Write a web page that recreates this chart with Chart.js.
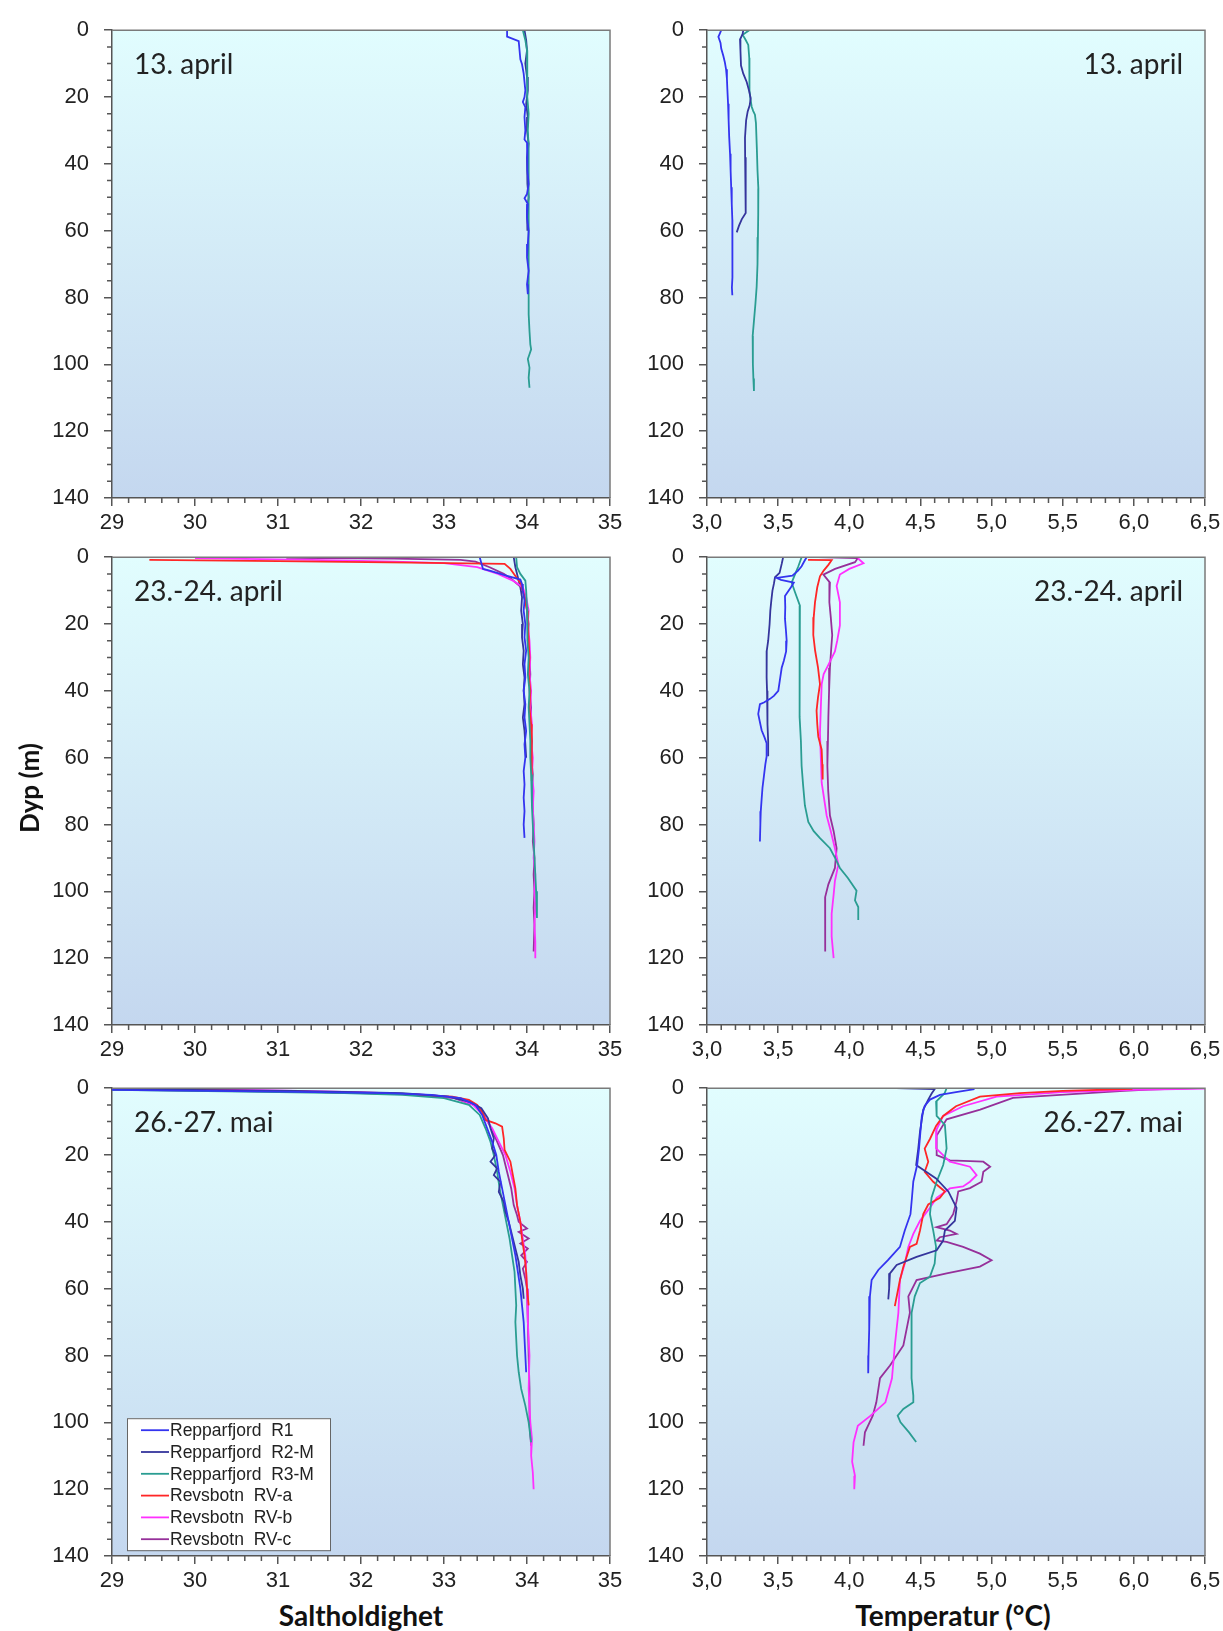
<!DOCTYPE html>
<html><head><meta charset="utf-8">
<script src="https://cdn.jsdelivr.net/npm/chart.js@4.4.1/dist/chart.umd.min.js"></script>
<style>
html,body{margin:0;padding:0;background:#fff}
body{width:1223px;height:1631px;position:relative;overflow:hidden}
canvas{position:absolute}
.t{position:absolute;font-family:Lato,'Open Sans',sans-serif;font-weight:bold;color:#111;white-space:nowrap;transform:translate(-50%,-50%)}
</style></head><body>
<canvas id="p1"></canvas><canvas id="p2"></canvas><canvas id="p3"></canvas>
<canvas id="p4"></canvas><canvas id="p5"></canvas><canvas id="p6"></canvas>
<div class="t" id="ty" style="left:29px;top:788px;font-size:26px;transform:translate(-50%,-50%) rotate(-90deg)">Dyp (m)</div>
<div class="t" style="left:361px;top:1615px;font-size:28px">Saltholdighet</div>
<div class="t" style="left:953px;top:1615px;font-size:28px">Temperatur (°C)</div>
<script>
// ---------- tick labels / categories ----------
const depthTickLabels = ['0','20','40','60','80','100','120','140'];
const salTickLabels = ['29','30','31','32','33','34','35'];
const tempTickLabels = ['3,0','3,5','4,0','4,5','5,0','5,5','6,0','6,5'];
const stationLabels = ['Repparfjord  R1','Repparfjord  R2-M','Repparfjord  R3-M','Revsbotn  RV-a','Revsbotn  RV-b','Revsbotn  RV-c'];
const stationColors = ['#3434f0','#35359c','#2a9d92','#ff2626','#ff30ff','#96309a'];
const panelLabels = ['13. april','23.-24. april','26.-27. mai'];

// ---------- series: [depth (m), value] ----------
// 13. april, salinity
const sal13_R1 = [[0,33.76],[1.9,33.76],[3.3,33.9],[6,33.91],[8.7,33.92],[10.2,33.94],[13,33.96],[18,33.98],[20,33.97],[21.5,33.95],[23,33.98],[26,33.97],[30,33.98],[32.7,33.97],[33.7,34.0],[38,34.01],[42,34.0],[46,34.02],[49,34.0],[50.3,33.97],[52,34.01],[56,34.0],[60,34.02],[64,34.01],[68,34.0],[72,34.02],[76,34.0],[79,34.01]];
const sal13_R2 = [[0,33.97],[3,33.99],[6,34.0],[10,33.98],[14,34.0],[18,34.01],[22,33.99],[26,34.01],[30,34.0],[34,34.02],[38,34.0],[42,34.01],[46,34.0],[50,34.02],[54,34.0],[57,34.01],[60,34.0]];
const sal13_R3 = [[0,33.95],[3,33.98],[6,34.0],[10,34.0],[15,34.01],[20,34.0],[25,34.02],[30,34.01],[35,34.02],[40,34.02],[50,34.02],[60,34.02],[70,34.02],[80,34.02],[85,34.02],[90,34.03],[94,34.04],[95.5,34.05],[97,34.03],[98.4,34.01],[101,34.03],[104,34.02],[107,34.03]];
// 13. april, temperature
const tmp13_R1 = [[0,3.10],[1,3.09],[2,3.08],[3.8,3.095],[5.5,3.10],[7.7,3.115],[9.5,3.125],[11.7,3.134],[14.5,3.14],[17.6,3.143],[22,3.148],[27,3.152],[32,3.156],[37,3.162],[42,3.166],[47,3.17],[52,3.174],[56.7,3.178],[62,3.178],[68,3.18],[74,3.178],[77,3.175],[79.3,3.178]];
const tmp13_R2 = [[0,3.255],[1.2,3.25],[2.8,3.232],[6,3.235],[10.6,3.239],[13,3.255],[15.5,3.279],[18,3.295],[20.4,3.307],[22.5,3.30],[24.3,3.286],[27,3.275],[32.2,3.267],[38,3.268],[44,3.27],[50,3.272],[54.7,3.274],[56.6,3.244],[58.5,3.225],[60.5,3.209]];
const tmp13_R3 = [[0,3.297],[1.4,3.251],[2.8,3.27],[4.4,3.29],[8.3,3.297],[13,3.297],[17.9,3.30],[20.5,3.305],[22.9,3.314],[24.2,3.325],[25.3,3.337],[27.8,3.344],[35,3.35],[42,3.355],[47.4,3.361],[55,3.36],[62,3.358],[70,3.355],[76.8,3.349],[82,3.34],[87,3.33],[91.5,3.321],[96,3.323],[100,3.322],[104.2,3.326],[108,3.33]];
// 23.-24. april, salinity
const sal24_R1 = [[0,33.43],[3.5,33.47],[4,33.55],[5.5,33.75],[6.7,33.92],[8,33.94],[10,33.95],[13,33.97],[16,33.96],[20,33.98],[24,33.97],[28,33.99],[32,33.97],[36,33.98],[40,33.96],[44,33.98],[48,33.97],[52,33.99],[56,33.97],[60,33.98],[64,33.96],[68,33.97],[72,33.96],[76,33.97],[80,33.96],[84,33.97]];
const sal24_R2 = [[0,33.84],[3,33.86],[6,33.89],[9,33.92],[12,33.94],[16,33.93],[20,33.95],[24,33.94],[28,33.96],[32,33.95],[36,33.97],[40,33.96],[44,33.97],[48,33.95],[52,33.97],[56,33.98],[60,33.99]];
const sal24_R3 = [[0,33.87],[3,33.88],[5,33.92],[7,33.98],[10,33.99],[15,34.0],[20,34.01],[25,34.0],[30,34.02],[35,34.01],[40,34.03],[45,34.02],[50,34.03],[55,34.04],[60,34.04],[65,34.05],[70,34.06],[75,34.06],[80,34.07],[85,34.08],[90,34.09],[95,34.1],[100,34.11],[104,34.12],[108,34.12]];
const sal24_RVa = [[0.8,29.45],[1.2,31.0],[1.6,32.6],[2.0,33.73],[3.5,33.8],[5.6,33.86],[8,33.93],[12,33.97],[16,34.0],[20,34.01],[25,34.02],[30,34.03],[35,34.02],[40,34.04],[45,34.03],[50,34.05],[55,34.06],[60,34.05],[64,34.06],[67,34.06]];
const sal24_RVb = [[0.3,30.0],[0.8,31.4],[1.3,32.4],[1.8,33.0],[3,33.4],[5,33.65],[7,33.83],[9,33.95],[12,33.99],[16,34.02],[20,34.01],[25,34.03],[30,34.04],[35,34.03],[40,34.05],[45,34.04],[50,34.06],[55,34.05],[60,34.07],[65,34.06],[70,34.08],[75,34.07],[80,34.08],[85,34.09],[90,34.08],[95,34.1],[100,34.09],[105,34.1],[110,34.09],[115,34.1],[120,34.1]];
const sal24_RVc = [[0.2,31.1],[0.4,32.4],[0.8,33.2],[1.3,33.38],[3,33.55],[5,33.72],[6.7,33.82],[9,33.93],[12,33.98],[16,34.0],[20,34.02],[25,34.01],[30,34.03],[35,34.04],[40,34.03],[45,34.05],[50,34.04],[55,34.06],[60,34.05],[65,34.07],[70,34.06],[75,34.07],[80,34.08],[85,34.07],[90,34.09],[95,34.08],[100,34.09],[105,34.08],[110,34.09],[118,34.08]];
// 23.-24. april, temperature
const tmp24_R1 = [[0,3.70],[1.5,3.68],[2.7,3.665],[4,3.64],[5.5,3.60],[6.2,3.49],[6.8,3.52],[7.6,3.61],[9,3.59],[11.6,3.548],[15,3.55],[18.4,3.548],[22,3.555],[25,3.56],[28.2,3.556],[31,3.54],[33.1,3.525],[36,3.515],[40,3.501],[41.5,3.47],[42.4,3.443],[43.5,3.40],[44,3.372],[46.9,3.36],[49,3.37],[51.8,3.384],[54,3.405],[55.7,3.419],[59.6,3.419],[62,3.41],[65.5,3.40],[69,3.39],[72.4,3.384],[76,3.378],[80,3.375],[85.1,3.372]];
const tmp24_R2 = [[0,3.535],[2,3.525],[4.7,3.51],[6,3.478],[8,3.47],[10,3.46],[13,3.452],[16,3.445],[20,3.44],[25,3.43],[28,3.42],[32,3.418],[36,3.42],[40,3.422],[45,3.424],[50,3.426],[55,3.43],[59.6,3.43]];
const tmp24_R3 = [[0,3.665],[2.7,3.642],[5,3.62],[7.6,3.595],[10.4,3.618],[14.5,3.653],[20,3.65],[28,3.649],[35,3.652],[42,3.65],[47.8,3.653],[55,3.66],[62.5,3.665],[68,3.675],[74.3,3.688],[79.2,3.712],[82,3.75],[84.1,3.794],[87.1,3.864],[90,3.90],[93,3.934],[96,3.99],[99.8,4.051],[102.7,4.04],[104.7,4.063],[108.6,4.063]];
const tmp24_RVa = [[0.8,3.71],[0.9,3.876],[2.3,3.853],[4,3.82],[5.7,3.794],[9,3.775],[13.5,3.759],[18,3.75],[23.3,3.747],[28,3.76],[33,3.78],[38,3.794],[42,3.78],[45.9,3.77],[50,3.775],[53.7,3.782],[57.6,3.806],[62,3.81],[66.5,3.813]];
const tmp24_RVb = [[0.3,4.06],[1.8,4.10],[3.5,4.0],[5.2,3.934],[8.6,3.911],[13.5,3.934],[20.4,3.934],[25,3.915],[28.2,3.899],[32.2,3.853],[35,3.82],[38,3.806],[45,3.80],[52.7,3.794],[60,3.80],[67.5,3.806],[77.3,3.841],[82,3.87],[87.1,3.899],[92,3.923],[96.9,3.899],[101,3.89],[106.7,3.876],[113.5,3.876],[120,3.89]];
const tmp24_RVc = [[0,3.78],[0.3,4.06],[1.5,4.04],[3.5,3.9],[5.2,3.818],[7.6,3.864],[13.5,3.86],[18,3.87],[23.3,3.88],[28,3.872],[33.1,3.864],[40,3.858],[47.8,3.853],[55,3.85],[62.5,3.846],[70,3.852],[77.3,3.864],[82,3.89],[87.1,3.911],[93,3.899],[97.9,3.853],[101.8,3.83],[107,3.832],[113.5,3.83],[118,3.83]];
// 26.-27. mai, salinity
const salMai_R1 = [[0.5,29.0],[1,31.0],[1.5,32.3],[2,32.85],[3,33.2],[5,33.38],[8,33.46],[12,33.52],[16,33.58],[20,33.63],[25,33.66],[30,33.7],[35,33.74],[40,33.78],[45,33.82],[50,33.86],[55,33.89],[60,33.92],[65,33.94],[70,33.96],[75,33.97],[80,33.98],[85,33.99]];
const salMai_R2 = [[0.3,29.0],[0.8,31.2],[1.5,32.5],[2.5,33.05],[4,33.3],[6,33.45],[9,33.53],[12,33.56],[15,33.6],[18,33.58],[20,33.62],[22,33.56],[24,33.64],[26,33.6],[28,33.68],[31,33.66],[34,33.72],[37,33.74],[40,33.78],[44,33.82],[48,33.86],[52,33.9],[56,33.92],[60,33.95],[63,33.96]];
const salMai_R3 = [[0.5,29.0],[1,30.6],[1.5,31.8],[2,32.5],[3,33.0],[5,33.3],[8,33.43],[12,33.5],[16,33.56],[20,33.6],[25,33.64],[30,33.67],[35,33.71],[40,33.75],[45,33.79],[50,33.82],[55,33.85],[60,33.86],[65,33.87],[70,33.86],[75,33.87],[80,33.88],[85,33.9],[90,33.93],[95,33.98],[100,34.02],[106,34.05]];
const salMai_RVa = [[0.3,29.0],[0.9,31.0],[1.7,32.5],[2.5,33.1],[3.5,33.3],[5,33.4],[7,33.46],[9.5,33.5],[10.5,33.62],[11.5,33.7],[15,33.72],[18.5,33.73],[22,33.8],[26,33.83],[30,33.86],[35,33.88],[40,33.92],[45,33.94],[50,33.97],[55,33.99],[60,34.0],[65,34.02]];
const salMai_RVb = [[0.2,29.0],[0.6,30.8],[1.2,32.0],[2,32.8],[3,33.15],[5,33.35],[8,33.47],[12,33.58],[16,33.66],[20,33.74],[25,33.8],[30,33.85],[35,33.88],[40,33.92],[45,33.95],[50,33.98],[55,33.99],[60,34.0],[70,34.01],[80,34.03],[90,34.02],[100,34.04],[105,34.06],[110,34.05],[115,34.07],[120,34.08]];
const salMai_RVc = [[0.4,29.0],[1.1,31.4],[1.9,32.7],[3,33.12],[5,33.36],[8,33.48],[12,33.57],[16,33.64],[20,33.71],[25,33.76],[30,33.81],[35,33.84],[38,33.88],[40,33.9],[42,34.0],[43,33.9],[45,34.02],[46.5,33.92],[48,34.01],[50,33.93],[52,34.0],[54,33.95],[57,33.98],[60,34.0],[70,34.01],[80,34.02],[90,34.03],[100,34.03],[104,34.04],[107,34.05]];
// 26.-27. mai, temperature
const tmpMai_R1 = [[0.3,4.88],[1.2,4.75],[2,4.637],[3.4,4.567],[5.3,4.53],[8.3,4.51],[13,4.50],[18.1,4.49],[23,4.477],[27.9,4.45],[33,4.44],[37.7,4.43],[42.6,4.39],[47.5,4.356],[51.5,4.27],[54.4,4.204],[57.4,4.157],[62.3,4.145],[72.1,4.14],[80,4.135],[85.3,4.133]];
const tmpMai_R2 = [[0,4.33],[0.3,4.60],[1.5,4.58],[3.4,4.555],[6.4,4.52],[13,4.497],[18,4.485],[23,4.47],[25,4.54],[27,4.61],[30.9,4.696],[35.8,4.754],[39.7,4.742],[42.6,4.672],[45.6,4.66],[48.5,4.614],[50.5,4.473],[52.9,4.333],[55.4,4.286],[60,4.28],[63.2,4.274]];
const tmpMai_R3 = [[0,4.684],[1.5,4.67],[4,4.61],[8.3,4.614],[11,4.672],[18,4.684],[23,4.66],[28,4.614],[32.8,4.578],[37.7,4.567],[42.6,4.59],[47.5,4.61],[52.5,4.60],[56.4,4.567],[58.3,4.497],[62.3,4.46],[67.2,4.438],[75,4.435],[86.8,4.44],[92,4.45],[94,4.45],[96,4.38],[98,4.34],[100,4.36],[103,4.42],[105.9,4.47]];
const tmpMai_RVa = [[0.2,5.99],[0.8,5.5],[1.5,5.2],[2.5,4.918],[5.4,4.75],[8.3,4.66],[11.3,4.61],[15.2,4.567],[18.1,4.53],[22,4.555],[25,4.53],[28,4.59],[30.9,4.672],[32.8,4.637],[34.8,4.555],[37.7,4.52],[42.6,4.497],[46.6,4.473],[47.5,4.426],[53.4,4.38],[57.4,4.356],[65.2,4.32]];
const tmpMai_RVb = [[0.1,6.5],[0.5,6.0],[1.2,5.5],[2.5,5.035],[5.4,4.80],[8.3,4.66],[12.3,4.614],[18,4.61],[22,4.707],[23.5,4.848],[26,4.895],[28,4.848],[29.4,4.80],[30,4.707],[32.8,4.614],[35.8,4.567],[39.7,4.497],[43.6,4.45],[47.5,4.415],[52.5,4.39],[57.4,4.356],[67.2,4.345],[77,4.32],[86.8,4.30],[94,4.254],[98,4.15],[101,4.06],[106,4.03],[111.8,4.02],[116,4.04],[120,4.035]];
const tmpMai_RVc = [[0,6.45],[0.4,6.1],[0.8,5.93],[2.9,5.15],[6.4,4.92],[9.3,4.684],[14.2,4.614],[20,4.614],[21.6,4.707],[22,4.942],[23.5,4.99],[25,4.942],[28,4.93],[29.9,4.848],[30.9,4.766],[33.8,4.754],[37.7,4.73],[40.7,4.684],[41.6,4.614],[42.6,4.707],[43.6,4.754],[44.6,4.637],[45.6,4.614],[46,4.684],[47.5,4.80],[49.5,4.918],[51.5,5.0],[53.4,4.918],[55.4,4.684],[57.4,4.473],[62.3,4.415],[67.2,4.426],[77,4.38],[83,4.286],[86.8,4.216],[94,4.19],[98,4.165],[103,4.11],[107,4.10]];

// ---------- drawing ----------
const toXY = arr => arr.map(p => ({x: p[1], y: p[0]}));

const deco = {
  id: 'deco',
  beforeDraw(chart) {
    const {ctx, chartArea: a} = chart;
    const g = ctx.createLinearGradient(0, a.top, 0, a.bottom);
    g.addColorStop(0, '#e1fdfe');
    g.addColorStop(1, '#c4d7ef');
    ctx.save();
    ctx.fillStyle = g;
    ctx.fillRect(a.left, a.top, a.right - a.left, a.bottom - a.top);
    ctx.restore();
  },
  afterDraw(chart, args, o) {
    const {ctx, chartArea: a} = chart;
    const xs = chart.scales.x, ys = chart.scales.y;
    ctx.save();
    // frame (top and right)
    ctx.strokeStyle = '#7a7a7a'; ctx.lineWidth = 1.5;
    ctx.beginPath(); ctx.moveTo(a.left, a.top); ctx.lineTo(a.right, a.top); ctx.lineTo(a.right, a.bottom); ctx.stroke();
    // minor ticks
    ctx.strokeStyle = '#555'; ctx.lineWidth = 1.5;
    ctx.beginPath();
    const nx = Math.round((xs.max - xs.min) / o.xminor);
    const per = Math.round(o.xmajor / o.xminor);
    for (let i = 0; i <= nx; i++) {
      if (i % per === 0) continue;
      const px = xs.getPixelForValue(xs.min + i * o.xminor);
      ctx.moveTo(px, a.bottom); ctx.lineTo(px, a.bottom + 5);
    }
    for (let i = 0; i <= 28; i++) {
      if (i % 4 === 0) continue;
      const py = ys.getPixelForValue(i * 5);
      ctx.moveTo(a.left - 5, py); ctx.lineTo(a.left, py);
    }
    ctx.stroke();
    // panel label
    ctx.fillStyle = '#222';
    ctx.font = '28px Lato, "Open Sans", sans-serif';
    ctx.textBaseline = 'alphabetic';
    if (o.align === 'left') { ctx.textAlign = 'left'; ctx.fillText(o.text, a.left + 22, a.top + 44); }
    else { ctx.textAlign = 'right'; ctx.fillText(o.text, a.right - 22, a.top + 44); }
    // legend
    if (o.legend) {
      const bx = a.left + 15, by = a.top + 330, bw = 203, bh = 132;
      ctx.fillStyle = '#fff'; ctx.fillRect(bx, by, bw, bh);
      ctx.strokeStyle = '#666'; ctx.lineWidth = 1; ctx.strokeRect(bx + 0.5, by + 0.5, bw, bh);
      ctx.font = '17.5px "Liberation Sans", Arial, sans-serif';
      ctx.textAlign = 'left'; ctx.textBaseline = 'middle';
      chart.data.datasets.forEach((ds, i) => {
        const cy = by + 12 + i * 21.8;
        ctx.strokeStyle = ds.borderColor; ctx.lineWidth = 1.8;
        ctx.beginPath(); ctx.moveTo(bx + 14, cy); ctx.lineTo(bx + 42, cy); ctx.stroke();
        ctx.fillStyle = '#222'; ctx.fillText(ds.label, bx + 43, cy + 1);
      });
    }
    ctx.restore();
  }
};

const YW = 80, PT = 20, PR = 26, XH = 42;
const tickFont = {family: '"Liberation Sans", Arial, sans-serif', size: 22};

function panel(id, area, xmin, xmax, xmajor, xminor, xlabels, series, text, align, legend) {
  const cv = document.getElementById(id);
  const w = area[2] - area[0] + YW + PR, h = area[3] - area[1] + PT + XH;
  cv.width = w; cv.height = h;
  cv.style.left = (area[0] - YW) + 'px'; cv.style.top = (area[1] - PT) + 'px';
  cv.style.width = w + 'px'; cv.style.height = h + 'px';
  new Chart(cv, {
    type: 'scatter',
    data: {datasets: series.map(s => ({
      label: stationLabels[s[0]], data: toXY(s[1]),
      borderColor: stationColors[s[0]], backgroundColor: stationColors[s[0]],
      showLine: true, pointRadius: 0, pointHoverRadius: 0, borderWidth: 1.8, tension: 0, fill: false
    }))},
    options: {
      responsive: false, animation: false, devicePixelRatio: 1, events: [],
      layout: {padding: {left: 0, top: PT, right: PR, bottom: 0}},
      plugins: {legend: {display: false}, tooltip: {enabled: false},
        deco: {text: text, align: align, xmajor: xmajor, xminor: xminor, legend: legend}},
      scales: {
        x: {
          type: 'linear', min: xmin, max: xmax,
          afterFit: s => { s.height = XH; },
          ticks: {stepSize: xmajor, autoSkip: false, maxRotation: 0, padding: 4, color: '#222', font: tickFont,
            callback: v => xlabels[Math.round((v - xmin) / xmajor)]},
          grid: {display: true, drawOnChartArea: false, drawTicks: true, tickLength: 8, color: '#555', lineWidth: 1.5},
          border: {display: true, color: '#555', width: 1.5}
        },
        y: {
          type: 'linear', reverse: true, min: 0, max: 140,
          afterFit: s => { s.width = YW; },
          ticks: {stepSize: 20, autoSkip: false, padding: 15, color: '#222', font: tickFont,
            callback: v => depthTickLabels[Math.round(v / 20)]},
          grid: {display: true, drawOnChartArea: false, drawTicks: true, tickLength: 8, color: '#555', lineWidth: 1.5},
          border: {display: true, color: '#555', width: 1.5}
        }
      }
    },
    plugins: [deco]
  });
}

function build() {
  const L = [112, 610], R = [707, 1205];
  const rows = [[22, 498], [549, 1025], [1080, 1556]];
  panel('p1', [L[0], rows[0][0], L[1], rows[0][1]], 29, 35, 1, 0.2, salTickLabels,
    [[0, sal13_R1], [2, sal13_R3], [1, sal13_R2]], panelLabels[0], 'left', false);
  panel('p2', [R[0], rows[0][0], R[1], rows[0][1]], 3, 6.5, 0.5, 0.1, tempTickLabels,
    [[0, tmp13_R1], [1, tmp13_R2], [2, tmp13_R3]], panelLabels[0], 'right', false);
  panel('p3', [L[0], rows[1][0], L[1], rows[1][1]], 29, 35, 1, 0.2, salTickLabels,
    [[0, sal24_R1], [2, sal24_R3], [3, sal24_RVa], [4, sal24_RVb], [5, sal24_RVc], [1, sal24_R2]], panelLabels[1], 'left', false);
  panel('p4', [R[0], rows[1][0], R[1], rows[1][1]], 3, 6.5, 0.5, 0.1, tempTickLabels,
    [[0, tmp24_R1], [1, tmp24_R2], [2, tmp24_R3], [3, tmp24_RVa], [4, tmp24_RVb], [5, tmp24_RVc]], panelLabels[1], 'right', false);
  panel('p5', [L[0], rows[2][0], L[1], rows[2][1]], 29, 35, 1, 0.2, salTickLabels,
    [[0, salMai_R1], [1, salMai_R2], [2, salMai_R3], [3, salMai_RVa], [4, salMai_RVb], [5, salMai_RVc]], panelLabels[2], 'left', true);
  panel('p6', [R[0], rows[2][0], R[1], rows[2][1]], 3, 6.5, 0.5, 0.1, tempTickLabels,
    [[0, tmpMai_R1], [1, tmpMai_R2], [2, tmpMai_R3], [3, tmpMai_RVa], [4, tmpMai_RVb], [5, tmpMai_RVc]], panelLabels[2], 'right', false);
}

let built = false;
function go() { if (!built) { built = true; build(); } }
if (document.fonts && document.fonts.load) {
  Promise.all([document.fonts.load('28px Lato'), document.fonts.load('bold 28px Lato'), document.fonts.load('22px "Liberation Sans"')])
    .then(go, go);
  setTimeout(go, 800);
} else { go(); }
</script>
</body></html>
